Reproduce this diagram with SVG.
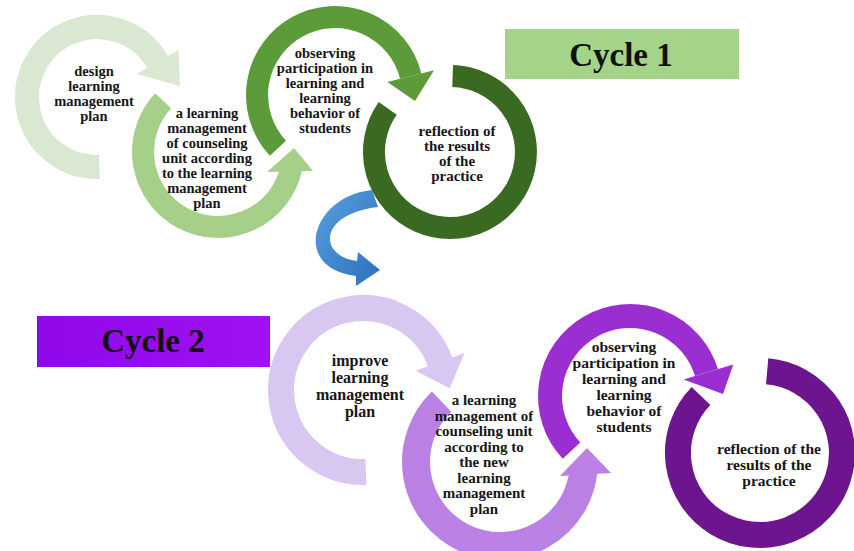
<svg xmlns="http://www.w3.org/2000/svg" width="854" height="551" viewBox="0 0 854 551">
<defs>
<style>
.t{font-family:"Liberation Serif","Times New Roman",serif;font-weight:bold;fill:#161616;text-anchor:middle}
.s1{font-size:14.5px}
.s4{font-size:15px}
.s5{font-size:16px}
.s6{font-size:15px}
.s7{font-size:15.5px}
.s8{font-size:15.5px}
.cy{font-family:"Liberation Serif","Times New Roman",serif;font-weight:bold;font-size:33px;fill:#111;text-anchor:middle}
.ring{fill:none}
</style>
<linearGradient id="blue" x1="0" y1="0" x2="1" y2="1">
<stop offset="0" stop-color="#5a9fe0"/>
<stop offset="1" stop-color="#2c70bb"/>
</linearGradient>
<linearGradient id="c2g" x1="0" y1="0" x2="1" y2="0">
<stop offset="0" stop-color="#8f08ea"/>
<stop offset="1" stop-color="#a010f2"/>
</linearGradient>
</defs>
<rect width="854" height="551" fill="#ffffff"/>

<g id="connectors">
<path d="M 372,190 C 312,196 290,268 356,276 L 356,286 L 380,270 L 358,252 L 357,261 C 318,256 318,214 378,207 Z" fill="url(#blue)"/>
</g>

<g id="node-design">
<path class="ring" d="M 99.44,166.96 A 70 70 0 1 1 157.62,62.0" stroke="#dbe8d1" stroke-width="24"/>
<polygon points="136.8,74.0 178.4,50.0 180,86" fill="#dbe8d1"/>
<text class="t s1" x="94" y="76">design</text>
<text class="t s1" x="94" y="91">learning</text>
<text class="t s1" x="94" y="106">management</text>
<text class="t s1" x="94" y="121">plan</text>
</g>

<g id="node-unit">
<path class="ring" d="M 163.15,100.85 A 75 75 0 1 0 291.4,167.6" stroke="#a6cf8a" stroke-width="22"/>
<polygon points="267,172 313,171 294,148" fill="#a6cf8a"/>
<text class="t s1" x="207" y="118">a learning</text>
<text class="t s1" x="207" y="133">management</text>
<text class="t s1" x="207" y="148">of counseling</text>
<text class="t s1" x="207" y="163">unit according</text>
<text class="t s1" x="207" y="178">to the learning</text>
<text class="t s1" x="207" y="193">management</text>
<text class="t s1" x="207" y="208">plan</text>
</g>

<g id="node-observe">
<path class="ring" d="M 277.95,148.2 A 78 78 0 1 1 410.7,76.1" stroke="#5b9b3a" stroke-width="22"/>
<polygon points="387.4,81.9 434,70.3 415,101" fill="#5b9b3a"/>
<text class="t s1" x="325" y="58">observing</text>
<text class="t s1" x="325" y="73">participation in</text>
<text class="t s1" x="325" y="88">learning and</text>
<text class="t s1" x="325" y="103">learning</text>
<text class="t s1" x="325" y="118">behavior of</text>
<text class="t s1" x="325" y="133">students</text>
</g>

<g id="node-reflect">
<path class="ring" d="M 452.65,76.05 A 76 76 0 1 1 387.7,108.4" stroke="#3a6a22" stroke-width="22"/>
<text class="t s4" x="457" y="136">reflection of</text>
<text class="t s4" x="457" y="151">the results</text>
<text class="t s4" x="457" y="166">of the</text>
<text class="t s4" x="457" y="181">practice</text>
</g>

<g id="label-cycle1">
<rect x="505" y="29" width="234" height="50" fill="#a4d48a"/>
<text class="cy" x="621" y="66">Cycle 1</text>
</g>

<g id="label-cycle2">
<rect x="37" y="316" width="233" height="51" fill="url(#c2g)"/>
<text class="cy" x="153" y="352">Cycle 2</text>
</g>

<g id="node-improve">
<path class="ring" d="M 365.9,472 A 82 82 0 1 1 440.1,361.96" stroke="#d8c7f1" stroke-width="26"/>
<polygon points="415.6,370.8 464.5,353.1 449.7,388.3" fill="#d8c7f1"/>
<text class="t s5" x="360" y="366">improve</text>
<text class="t s5" x="360" y="383">learning</text>
<text class="t s5" x="360" y="400">management</text>
<text class="t s5" x="360" y="417">plan</text>
</g>

<g id="node-observe2">
<path class="ring" d="M 571.5,450.6 A 80 80 0 1 1 706.5,372.6" stroke="#9a2ed0" stroke-width="24"/>
<polygon points="683.6,379.6 733.3,364.4 723,394" fill="#9a2ed0"/>
<text class="t s7" x="624" y="352">observing</text>
<text class="t s7" x="624" y="368">participation in</text>
<text class="t s7" x="624" y="384">learning and</text>
<text class="t s7" x="624" y="400">learning</text>
<text class="t s7" x="624" y="416">behavior of</text>
<text class="t s7" x="624" y="432">students</text>
</g>

<g id="node-unit2">
<path class="ring" d="M 441.6,401.6 A 84 84 0 1 0 583.7,469.3" stroke="#ba80e4" stroke-width="28"/>
<polygon points="560,476 611,473 587,448" fill="#ba80e4"/>
<text class="t s6" x="484" y="405">a learning</text>
<text class="t s6" x="484" y="420.5">management of</text>
<text class="t s6" x="484" y="436">counseling unit</text>
<text class="t s6" x="484" y="451.5">according to</text>
<text class="t s6" x="484" y="467">the new</text>
<text class="t s6" x="484" y="482.5">learning</text>
<text class="t s6" x="484" y="498">management</text>
<text class="t s6" x="484" y="513.5">plan</text>
</g>

<g id="node-reflect2">
<path class="ring" d="M 767.15,371.31 A 82 82 0 1 1 701.0,396.0" stroke="#6c158f" stroke-width="26"/>
<text class="t s8" x="769" y="454">reflection of the</text>
<text class="t s8" x="769" y="470">results of the</text>
<text class="t s8" x="769" y="486">practice</text>
</g>
</svg>
